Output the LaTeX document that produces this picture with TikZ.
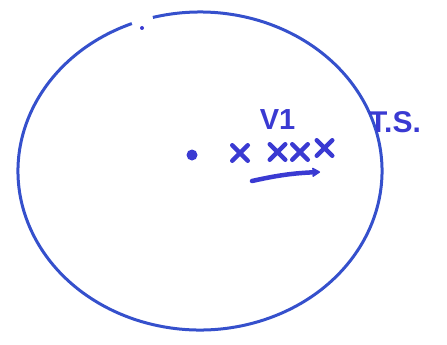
\documentclass[tikz,border=0pt]{standalone}
\usepackage{fontspec}
\setmainfont{Liberation Sans}
\usetikzlibrary{positioning}
\usetikzlibrary{shapes.misc}
\usetikzlibrary{arrows.meta}
\definecolor{penBlue}{HTML}{3A3AD2}
\definecolor{rimBlue}{HTML}{3550CC}

\tikzset{
    mark x/.style={draw=penBlue, cross out, line width=4.5pt, line cap=round, minimum size=11pt, inner sep=0pt},
    pen text/.style={text=penBlue, font=\bfseries\fontsize{29}{32}\selectfont, inner sep=0pt}
}

\begin{document}
\begin{tikzpicture}[x=1pt, y=1pt]
    \useasboundingbox (0,0) rectangle (447,-345);

    % the sphere
    \draw [rimBlue, line width=3pt] (200,-171) ++(112:182 and 159) arc [start angle=112, end angle=465, x radius=182, y radius=159];
    \node (gapdot) [fill=penBlue, circle, inner sep=0pt, minimum size=4pt] at (142,-28) {};

    \node (centre) [fill=penBlue, circle, inner sep=0pt, minimum size=11pt] at (192,-155) {};
    \node (x1) [mark x] at (240,-153) {};
    \node (x2) [mark x, right=22pt of x1, yshift=1pt] {};
    \node (x3) [mark x, right=7pt of x2] {};
    \node (x4) [mark x, right=9pt of x3, yshift=4pt] {};

    \node (vone) [pen text, above=15pt of x2.north] {V1};
    \node (ts) [pen text, font=\bfseries\fontsize{30}{33}\selectfont] at (395,-122) {T.S.};

    \coordinate (arrstart) at (252,-181);
    \coordinate (arrend) at (320,-172);
    \draw [-{Stealth[length=10pt, width=12pt, round]}, penBlue, line width=4.5pt, line cap=round] (arrstart) to[bend left=5] (arrend);

\end{tikzpicture}
\end{document}
